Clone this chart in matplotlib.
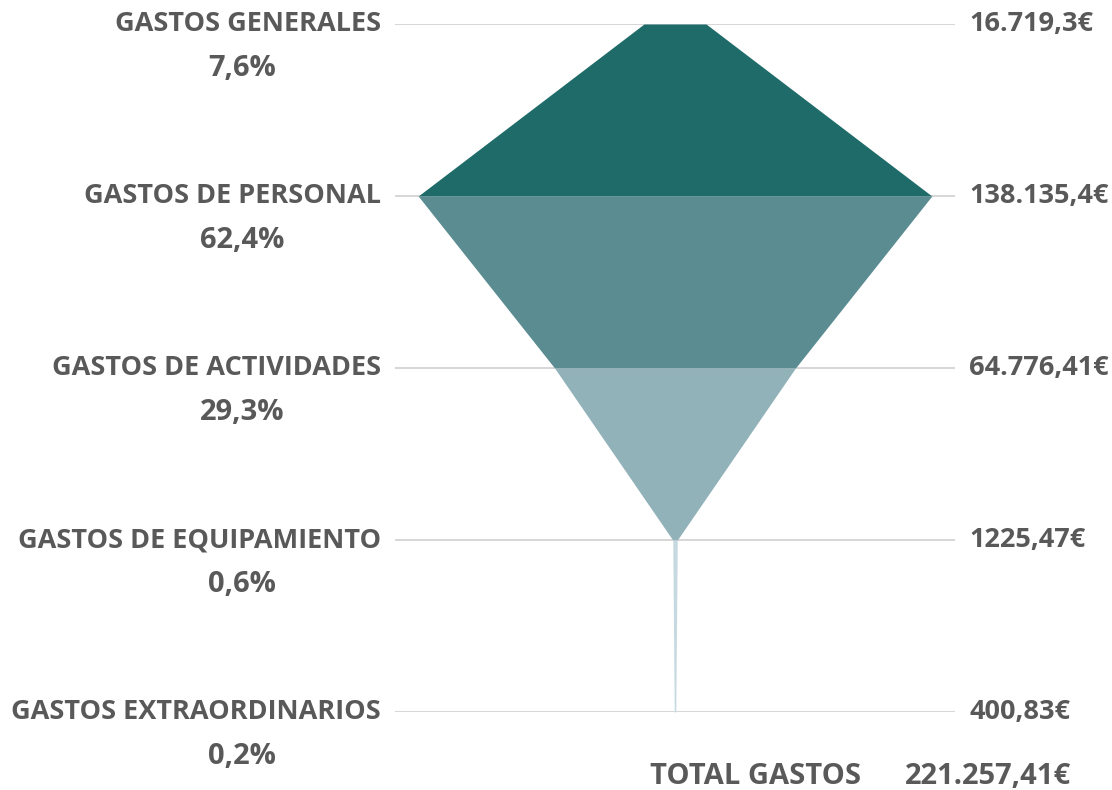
import matplotlib
matplotlib.use("Agg")
import matplotlib.pyplot as plt
import matplotlib.transforms as mtransforms

# --- datos ---
categorias = ["GASTOS GENERALES", "GASTOS DE PERSONAL", "GASTOS DE ACTIVIDADES",
              "GASTOS DE EQUIPAMIENTO", "GASTOS EXTRAORDINARIOS"]
importes = [16719.3, 138135.4, 64776.41, 1225.47, 400.83]
etiquetas_importe = ["16.719,3€", "138.135,4€", "64.776,41€", "1225,47€", "400,83€"]
porcentajes = ["7,6%", "62,4%", "29,3%", "0,6%", "0,2%"]
total_texto = "TOTAL GASTOS"
total_valor = "221.257,41€"

colores = ["#1F6B69", "#5A8C91", "#92B2BA", "#C6D9E0"]
gris_texto = "#595959"

plt.rcParams['font.family'] = ['Open Sans', 'DejaVu Sans']

fig = plt.figure(figsize=(11.12, 7.90), dpi=100)
W, H = 1112, 790
# ejes: de x=395 a 955 px, niveles de y=24 a 712 px
ax = fig.add_axes([395 / W, (H - 712) / H, 560 / W, 688 / H])
mitad = 75300
ax.set_xlim(-mitad, mitad)
ax.set_ylim(len(importes) - 1, 0)
ax.axis('off')

# líneas de nivel
for i in range(len(importes)):
    ax.axhline(i, color="#D6D6D6", lw=1.4, zorder=0)

# tramos del embudo
for i in range(len(importes) - 1):
    a, b = importes[i] / 2, importes[i + 1] / 2
    ax.fill_betweenx([i, i + 1], [-a, -b], [a, b], color=colores[i],
                     lw=0, zorder=2)

trans = mtransforms.blended_transform_factory(ax.transAxes, ax.transData)
fs = 19.5
fs_pct = 21
for i, (cat, imp, pct) in enumerate(zip(categorias, etiquetas_importe, porcentajes)):
    ax.text(-14 / 560, i, cat, transform=trans, ha='right', va='center',
            fontsize=fs, fontweight='bold', color=gris_texto, clip_on=False)
    ax.text(1 + 14 / 560, i, imp, transform=trans, ha='left', va='center',
            fontsize=fs, fontweight='bold', color=gris_texto, clip_on=False)
    ax.annotate(pct, xy=(-153 / 560, i), xycoords=trans,
                xytext=(0, -32), textcoords='offset points',
                ha='center', va='center', fontsize=fs_pct, fontweight='bold',
                color=gris_texto, annotation_clip=False)

fig.text(756 / W, 1 - 777 / H, total_texto, ha='center', va='center',
         fontsize=fs_pct, fontweight='bold', color=gris_texto)
fig.text(1071 / W, 1 - 777 / H, total_valor, ha='right', va='center',
         fontsize=fs_pct, fontweight='bold', color=gris_texto)

fig.savefig("out.png", dpi=100)
